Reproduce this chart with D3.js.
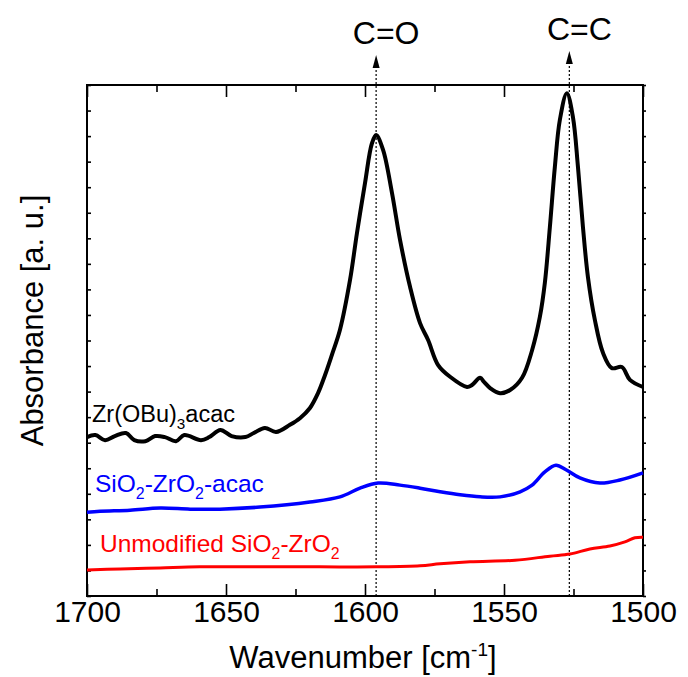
<!DOCTYPE html>
<html>
<head>
<meta charset="utf-8">
<script src="https://cdn.jsdelivr.net/npm/d3@7"></script>
<style>
  html, body { margin: 0; padding: 0; background: #fff; }
  svg { display: block; font-family: "Liberation Sans", Arial, Helvetica, sans-serif; }
</style>
</head>
<body>
<svg id="chart" width="688" height="677"></svg>
<script>
// ---------- DATA ----------
const zrWave = [1700, 1697, 1693.5, 1690, 1686, 1683, 1679, 1675.5, 1672, 1668, 1665, 1659, 1656, 1652, 1648, 1643, 1640, 1636, 1632, 1627,
  1623.4, 1619.8, 1616.9, 1614.4, 1611.9, 1609, 1605.4, 1602.9, 1600, 1597.5, 1596, 1593.5, 1590.3, 1587.4, 1583.8, 1580.2, 1577.3,
  1573.7, 1569.4, 1563.3, 1561.5, 1558.6, 1557.2, 1555, 1551.4, 1547.8, 1543.5, 1539.9, 1537.1, 1535.3, 1533.5, 1531.7, 1529.9,
  1527.4, 1525.2, 1523.4, 1521.6, 1519.8, 1517.3, 1514.4, 1511.2, 1507.6, 1504.7, 1500];
const zrAbs = [0.311, 0.315, 0.305, 0.313, 0.319, 0.305, 0.303, 0.313, 0.311, 0.303, 0.315, 0.305, 0.311, 0.325, 0.313, 0.311, 0.319, 0.329, 0.321, 0.335,
  0.348, 0.368, 0.397, 0.432, 0.472, 0.521, 0.618, 0.710, 0.808, 0.886, 0.902, 0.873, 0.789, 0.697, 0.605, 0.534, 0.501,
  0.452, 0.429, 0.409, 0.413, 0.427, 0.419, 0.407, 0.397, 0.403, 0.427, 0.481, 0.546, 0.613, 0.722, 0.840, 0.932,
  0.984, 0.937, 0.840, 0.722, 0.624, 0.540, 0.476, 0.446, 0.448, 0.423, 0.409];

const acacWave = [1700, 1695.3, 1684.5, 1673.7, 1662.9, 1652.2, 1637.8, 1619.8, 1609, 1601.8, 1595.3, 1587.4, 1580.2, 1573, 1565.8,
  1558.6, 1551.4, 1544.2, 1539.9, 1535.3, 1531.3, 1527.7, 1522.7, 1515.5, 1508.3, 1500];
const acacAbs = [0.164, 0.166, 0.168, 0.172, 0.170, 0.170, 0.174, 0.184, 0.194, 0.211, 0.221, 0.217, 0.211, 0.204, 0.198,
  0.194, 0.194, 0.204, 0.217, 0.243, 0.256, 0.247, 0.231, 0.221, 0.227, 0.241];

const unmodWave = [1700, 1688.1, 1673.7, 1659.4, 1637.8, 1616.2, 1596, 1580.2, 1573, 1562.2, 1546, 1533.5, 1526.3, 1519.1, 1511.9, 1506.5, 1502.9, 1500];
const unmodAbs = [0.051, 0.053, 0.055, 0.057, 0.057, 0.057, 0.057, 0.059, 0.063, 0.067, 0.070, 0.078, 0.082, 0.092, 0.098, 0.106, 0.114, 0.115];

const xMajorTicks = [1700, 1650, 1600, 1550, 1500];
const xMinorTicks = [1675, 1625, 1575, 1525];
const yTicks = d3.range(0, 1.0001, 0.05);

const peakLabels = ["C=O", "C=C"];
const peakWave = [1596, 1526.5];

// ---------- LAYOUT ----------
const svg = d3.select("#chart");
const W = 688, H = 677;
const margin = { left: 87, top: 85, right: 45, bottom: 81 };
const pw = W - margin.left - margin.right;
const ph = H - margin.top - margin.bottom;

const x = d3.scaleLinear().domain([1700, 1500]).range([margin.left, margin.left + pw]);
const y = d3.scaleLinear().domain([0, 1]).range([margin.top + ph, margin.top]);

const fontBig = 30;

// ---------- AXES ----------
const gB = svg.append("g").attr("transform", `translate(0,${margin.top + ph})`);
gB.call(d3.axisBottom(x).tickValues(xMajorTicks).tickSize(-12).tickPadding(5).tickFormat(d3.format("d")));
gB.append("g").call(d3.axisBottom(x).tickValues(xMinorTicks).tickSize(-7).tickFormat(""));
const gT = svg.append("g").attr("transform", `translate(0,${margin.top})`);
gT.call(d3.axisTop(x).tickValues(xMajorTicks).tickSize(-12).tickFormat(""));
gT.append("g").call(d3.axisTop(x).tickValues(xMinorTicks).tickSize(-7).tickFormat(""));
const gL = svg.append("g").attr("transform", `translate(${margin.left},0)`);
gL.call(d3.axisLeft(y).tickValues(yTicks).tickSize(-4).tickFormat(""));
const gR = svg.append("g").attr("transform", `translate(${margin.left + pw},0)`);
gR.call(d3.axisRight(y).tickValues(yTicks).tickSize(3).tickFormat(""));

svg.selectAll(".domain").remove();
svg.selectAll(".tick line").attr("stroke", "#000").attr("stroke-width", 1.6);
gB.selectAll("text").attr("font-size", fontBig).attr("fill", "#000")
  .attr("font-family", "'Liberation Sans', Arial, sans-serif");

// frame
svg.append("rect")
  .attr("x", margin.left).attr("y", margin.top).attr("width", pw).attr("height", ph)
  .attr("fill", "none").attr("stroke", "#000").attr("stroke-width", 2);

// ---------- PEAK MARKERS ----------
const tipOffsets = [30, 34];
peakWave.forEach((w, i) => {
  const px = x(w);
  const tip = margin.top - tipOffsets[i];
  svg.append("line")
    .attr("x1", px).attr("x2", px)
    .attr("y1", margin.top + ph).attr("y2", tip + 12)
    .attr("stroke", "#000").attr("stroke-width", 1.2).attr("stroke-dasharray", "2,2");
  svg.append("path")
    .attr("d", `M${px},${tip} L${px - 3.5},${tip + 13} L${px + 3.5},${tip + 13} Z`)
    .attr("fill", "#000");
  svg.append("text")
    .attr("x", px + 10).attr("y", tip - 11)
    .attr("text-anchor", "middle")
    .attr("font-size", 32).attr("fill", "#000")
    .text(peakLabels[i]);
});

// ---------- CURVES ----------
const line = d3.line().x(d => x(d[0])).y(d => y(d[1])).curve(d3.curveCatmullRom.alpha(0.5));
const series = [
  { w: unmodWave, a: unmodAbs, color: "#ff0000", sw: 3 },
  { w: acacWave, a: acacAbs, color: "#0000ff", sw: 3.5 },
  { w: zrWave, a: zrAbs, color: "#000000", sw: 4 }
];
series.forEach(s => {
  svg.append("path")
    .datum(d3.zip(s.w, s.a))
    .attr("d", line)
    .attr("fill", "none")
    .attr("stroke", s.color)
    .attr("stroke-width", s.sw)
    .attr("stroke-linejoin", "round");
});

// ---------- SERIES LABELS ----------
function label(xp, yp, color, fs, parts) {
  const t = svg.append("text").attr("x", xp).attr("y", yp).attr("font-size", fs).attr("fill", color);
  parts.forEach(p => {
    if (p.sub) {
      t.append("tspan").attr("font-size", fs * 0.65).attr("dy", 7).text(p.t);
    } else {
      t.append("tspan").attr("dy", p.back ? -7 : 0).text(p.t);
    }
  });
}
label(92, 422, "#000", 23.5, [{ t: "Zr(OBu)" }, { t: "3", sub: true }, { t: "acac", back: true }]);
label(95, 492, "#0000ff", 24.5, [{ t: "SiO" }, { t: "2", sub: true }, { t: "-ZrO", back: true }, { t: "2", sub: true }, { t: "-acac", back: true }]);
label(100, 552, "#ff0000", 24.5, [{ t: "Unmodified SiO" }, { t: "2", sub: true }, { t: "-ZrO", back: true }, { t: "2", sub: true }]);

// ---------- AXIS TITLES ----------
const xt = svg.append("text")
  .attr("x", margin.left + pw / 2 - 2).attr("y", 668)
  .attr("text-anchor", "middle").attr("font-size", 31).attr("fill", "#000");
xt.append("tspan").text("Wavenumber [cm");
xt.append("tspan").attr("font-size", 19).attr("dy", -12).text("-1");
xt.append("tspan").attr("dy", 12).text("]");

svg.append("text")
  .attr("transform", `translate(43,${margin.top + ph / 2 - 20}) rotate(-90)`)
  .attr("text-anchor", "middle").attr("font-size", 31).attr("fill", "#000")
  .text("Absorbance [a. u.]");
</script>
</body>
</html>
